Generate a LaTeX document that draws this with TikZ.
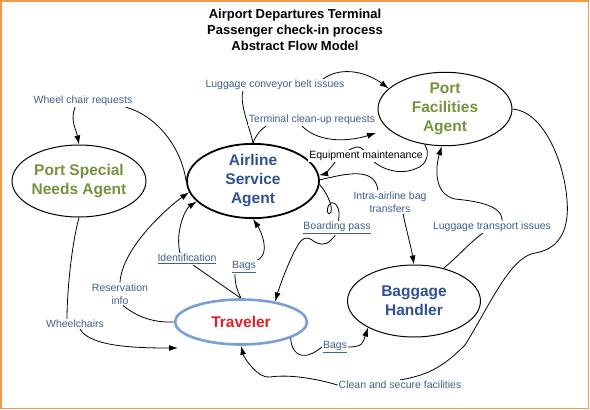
\documentclass[tikz,border=0pt]{standalone}
\usepackage{fontspec}
\setmainfont{Liberation Sans}
\usetikzlibrary{shapes.geometric,arrows.meta,backgrounds,calc}
\definecolor{lblc}{RGB}{63,95,143}
\definecolor{navyc}{RGB}{47,80,145}
\definecolor{olivec}{RGB}{118,146,60}
\definecolor{travred}{RGB}{228,30,38}
\definecolor{travblue}{RGB}{120,160,215}
\definecolor{framec}{RGB}{242,154,74}
\begin{document}
\begin{tikzpicture}[x=1pt,y=-1pt,
  agent/.style={ellipse, draw=black, line width=1pt, inner sep=0pt,
    font=\fontsize{15.5}{19}\selectfont\bfseries, align=center},
  lbl/.style={font=\fontsize{10.5}{13}\selectfont, text=lblc, align=center,
    inner sep=1pt, fill=white},
  conn/.style={draw=black, line width=0.8pt},
  arr/.style={conn, -{Latex[length=9pt,width=6pt]}},
]
\useasboundingbox (0,0) rectangle (590,410);
\draw[framec, line width=1.8pt] (1.2,1.2) rectangle (588.5,408.5);

\node[font=\fontsize{13}{16}\selectfont\bfseries, align=center] (title) at (295,30)
  {Airport Departures Terminal\\Passenger check-in process\\Abstract Flow Model};

\node[agent, text=olivec, minimum width=132pt, minimum height=72pt] (psn) at (79,181) {Port Special\\Needs Agent};
\node[agent, text=navyc, line width=1.8pt, minimum width=132pt, minimum height=72pt] (air) at (253,181) {Airline\\Service\\Agent};
\node[agent, text=olivec, minimum width=134pt, minimum height=72pt] (pfa) at (445,109) {Port\\Facilities\\Agent};
\node[agent, text=travred, draw=travblue, line width=2.6pt, minimum width=132pt, minimum height=45pt] (trav) at (241,322) {Traveler};
\node[agent, text=navyc, minimum width=133pt, minimum height=72pt] (bag) at (414,301) {Baggage\\Handler};

\node[lbl] (lwr) at (83,101) {Wheel chair requests};
\node[lbl] (llc) at (275,85) {Luggage conveyor belt issues};
\node[lbl] (ltc) at (312,120) {Terminal clean-up requests};
\node[lbl, text=black] (leq) at (366,156) {Equipment maintenance};
\node[lbl] (lia) at (390,202) {Intra-airline bag\\transfers};
\node[lbl] (llt) at (492,227) {Luggage transport issues};
\node[lbl] (lbp) at (337,228) {\underline{Boarding pass}};
\node[lbl] (lid) at (187,259) {\underline{Identification}};
\node[lbl] (lbg1) at (244,267) {\underline{Bags}};
\node[lbl] (lres) at (120,294) {Reservation\\info};
\node[lbl] (lwc) at (75,324) {Wheelchairs};
\node[lbl] (lbg2) at (335,347) {\underline{Bags}};
\node[lbl] (lcs) at (400,385) {Clean and secure facilities};

\coordinate (tcend) at (376,133);
\coordinate (wcend) at (178,348);

\begin{scope}[on background layer]
% wheel chair requests
\draw[arr] ([xshift=-8pt]lwr.south) .. controls +(-5,14) and +(-3,-16) .. (psn.north);
\draw[conn] ([xshift=-8pt]lwr.south east) .. controls +(30,8) and +(-5,-35) .. (air.180);
% luggage conveyor belt issues
\draw[conn] (air.north) .. controls +(-3,-15) and +(-4,12) .. ([xshift=-32pt]llc.south);
\draw[arr] ([xshift=48pt]llc.north) .. controls +(20,-14) and +(-20,-15) .. (pfa.160);
% terminal clean-up requests
\draw[conn] (air.north) .. controls +(3,-8) and +(-5,3) .. ([xshift=-46pt]ltc.south);
\draw[arr] ([xshift=-10pt]ltc.south) .. controls +(18,18) and +(-25,8) .. (tcend);
% equipment maintenance
\draw[arr] (pfa.240) .. controls (430,152) and (428,165) .. (415,169)
  .. controls (400,175) and (382,170) .. (372,160)
  .. controls (365,152) and (362,146) .. (357,147)
  .. controls (350,148) and (340,155) .. (332,166)
  .. controls (328,171) and (325,174) .. (air.5);
% intra-airline bag transfers
\draw[conn] (air.1) .. controls (345,174) and (375,166) .. ([xshift=-12pt]lia.north);
\draw[arr] ([xshift=13pt]lia.south) .. controls +(3,15) and +(-3,-18) .. (bag.north);
% luggage transport issues
\draw[conn] (bag.48) .. controls +(15,-12) and +(-12,8) .. ([xshift=-9pt]llt.south);
\draw[arr] ([xshift=10pt]llt.north) .. controls +(1,-16) and +(20,2) .. (455,199)
  .. controls +(-22,-5) and +(-6,20) .. (pfa.265);
% clean and secure facilities
\draw[conn] (pfa.east) .. controls +(30,2) and +(-3,-40) .. (567,200)
  .. controls +(3,35) and +(20,-3) .. (535,253)
  .. controls +(-25,4) and +(25,-40) .. (465,345)
  .. controls +(-20,20) and +(30,-5) .. (lcs.north);
\draw[arr] (lcs.west) .. controls +(-20,-6) and +(20,-3) .. (270,377)
  .. controls +(-12,2) and +(3,12) .. (trav.south);
% bags (lower)
\draw[conn] (trav.-18) .. controls +(2,22) and +(-14,12) .. (lbg2.west);
\draw[arr] (lbg2.east) .. controls +(15,0) and +(-5,15) .. (bag.210);
% identification
\draw[conn] (trav.north) .. controls +(-15,-10) and +(12,8) .. ([xshift=6pt]lid.south);
\draw[arr] ([xshift=-7pt]lid.north) .. controls +(-5,-20) and +(-12,8) .. (air.200);
% bags (upper)
\draw[conn] (trav.north) .. controls +(-5,-10) and +(0,8) .. ([xshift=-9pt]lbg1.south);
\draw[arr] (lbg1.north east) .. controls +(14,-6) and +(8,12) .. (air.south);
% boarding pass
\draw[arr] (air.-3) .. controls (326,192) and (333,205) .. (331,212)
  .. controls (329,217) and (325,211) .. (329,205)
  .. controls (333,199) and (340,206) .. (339,216)
  .. controls (338,228) and (337,236) .. (331,240)
  .. controls (326,246) and (318,245) .. (312,240)
  .. controls (307,236) and (302,238) .. (298,245)
  .. controls (290,258) and (280,285) .. (trav.31);
% reservation info
\draw[conn] (trav.west) .. controls +(-25,1) and +(10,8) .. ([xshift=3pt]lres.south);
\draw[arr] (lres.north) .. controls +(2,-35) and +(-20,14) .. (air.190);
% wheelchairs
\draw[conn] (psn.south) .. controls +(-8,30) and +(0,-25) .. ([xshift=-8pt]lwc.north);
\draw[arr] ([xshift=5pt]lwc.south) .. controls +(10,18) and +(-40,0) .. (wcend);
\end{scope}
\end{tikzpicture}
\end{document}
